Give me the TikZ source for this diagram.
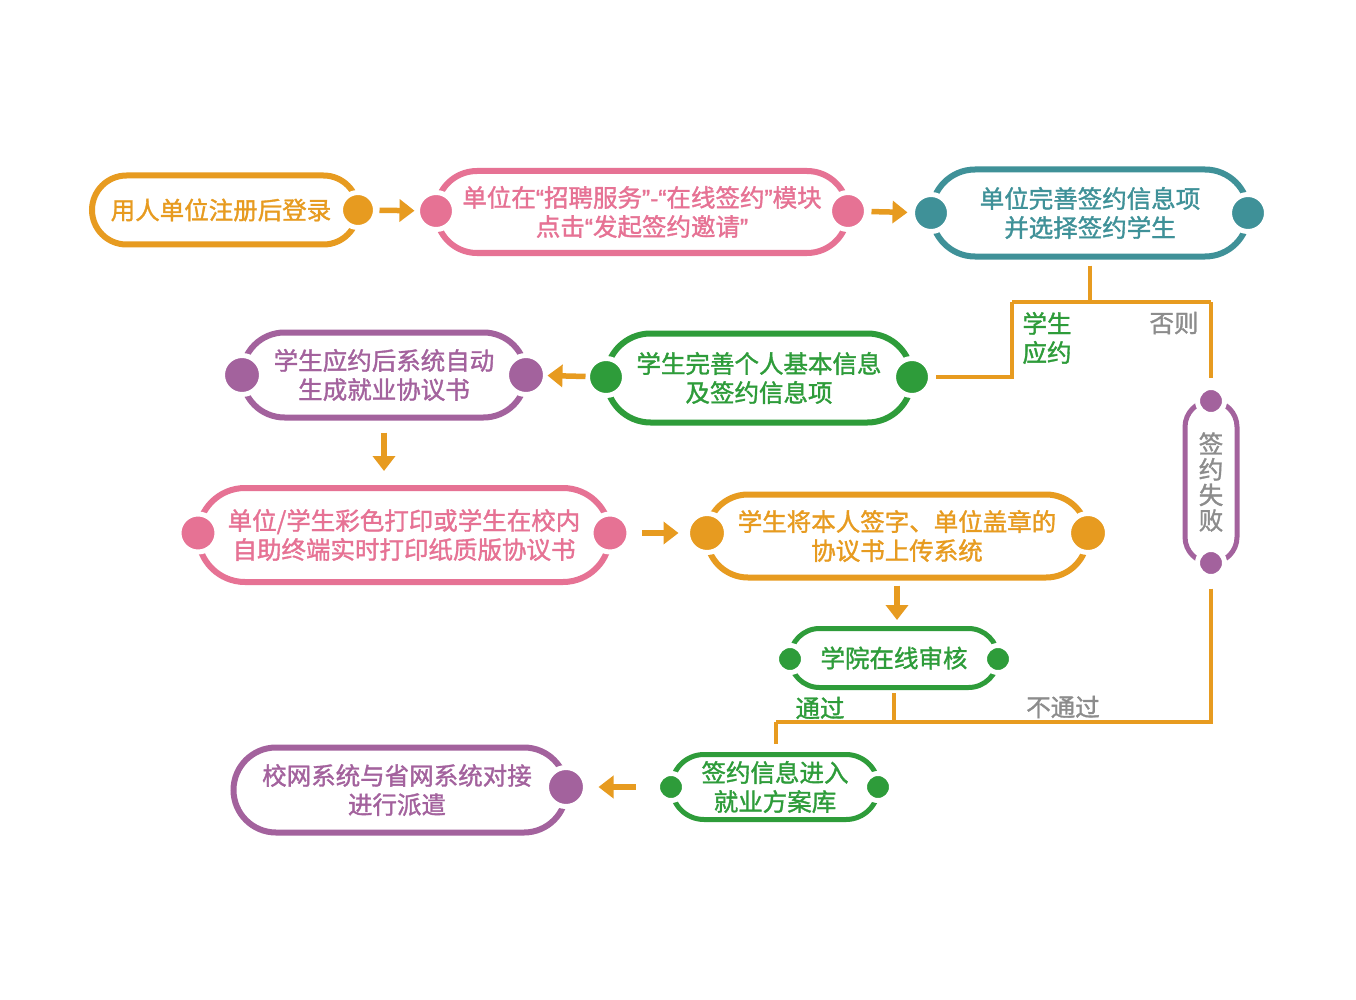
\documentclass[tikz,border=0pt]{standalone}
\usepackage{fontspec}
\setmainfont{Noto Sans CJK SC}[FakeBold=1.4]
\newfontfamily\latin{Liberation Sans}[FakeBold=1.4]
\newcommand\qo{{\latin “}}
\newcommand\qc{{\latin ”}}
\usepackage{xcolor}
\usepackage{tikz}
\usetikzlibrary{arrows.meta,shapes.misc}
\definecolor{amber}{HTML}{E79B20}
\definecolor{rose}{HTML}{E67294}
\definecolor{sea}{HTML}{3F9198}
\definecolor{leaf}{HTML}{2E9C3A}
\definecolor{plum}{HTML}{A3629D}
\definecolor{muted}{HTML}{8C8C8C}
\tikzset{
  pill/.style={rounded rectangle, draw=#1, line width=6pt, fill=white, text=#1,
    align=center, inner sep=0pt, font=\fontsize{24.5}{29}\selectfont},
  knob/.style={circle, fill=#1, draw=white, line width=5pt, inner sep=0pt,
    outer sep=0pt, minimum size=37pt},
  link/.style={draw=amber, line width=4pt},
  go/.style={draw=amber, line width=5.5pt, -{Triangle[length=15pt,width=22pt]}},
  note/.style={text=#1, align=left, inner sep=0pt, font=\fontsize{24.5}{29}\selectfont}
}
\begin{document}
\begin{tikzpicture}[x=1pt,y=-1pt]
  \fill[white] (0,0) rectangle (1356,1000);
  \useasboundingbox (0,0) rectangle (1356,1000);

  % first row
  \node[pill=amber, minimum width=266pt, minimum height=69pt] (n1) at (225,210) {\hspace*{-8pt}用人单位注册后登录};
  \node[knob=amber, minimum size=35pt] (n1r) at (358,210) {};
  \node[pill=rose, minimum width=412pt, minimum height=82pt] (n2) at (642,212) {单位在\qo 招聘服务\qc{\latin -}\qo 在线签约\qc 模块\\点击\qo 发起签约邀请\qc};
  \node[knob=rose] (n2l) at (436,211) {};
  \node[knob=rose] (n2r) at (848,211) {};
  \node[pill=sea, minimum width=317pt, minimum height=87pt] (n3) at (1090,213) {单位完善签约信息项\\并选择签约学生};
  \node[knob=sea] (n3l) at (931,213) {};
  \node[knob=sea] (n3r) at (1248,213) {};

  % second row
  \node[pill=leaf, minimum width=306pt, minimum height=89pt] (n4) at (759,378) {学生完善个人基本信息\\及签约信息项};
  \node[knob=leaf] (n4l) at (606,377) {};
  \node[knob=leaf] (n4r) at (912,377) {};
  \node[pill=plum, minimum width=284pt, minimum height=85pt] (n5) at (384,375) {学生应约后系统自动\\生成就业协议书};
  \node[knob=plum, minimum size=39pt] (n5l) at (242,375) {};
  \node[knob=plum, minimum size=39pt] (n5r) at (526,375) {};

  % third row
  \node[pill=rose, minimum width=412pt, minimum height=94pt] (n6) at (404,535) {单位/学生彩色打印或学生在校内\\自助终端实时打印纸质版协议书};
  \node[knob=rose, minimum size=38pt] (n6l) at (198,533) {};
  \node[knob=rose, minimum size=38pt] (n6r) at (610,533) {};
  \node[pill=amber, minimum width=381pt, minimum height=83pt] (n7) at (897,536) {学生将本人签字、单位盖章的\\协议书上传系统};
  \node[knob=amber, minimum size=39pt] (n7l) at (707,533) {};
  \node[knob=amber, minimum size=39pt] (n7r) at (1088,533) {};

  % check and result
  \node[pill=leaf, line width=5pt, minimum width=208pt, minimum height=59pt] (n8) at (894,658) {学院在线审核};
  \node[knob=leaf, minimum size=27pt] (n8l) at (790,659) {};
  \node[knob=leaf, minimum size=27pt] (n8r) at (998,659) {};
  \node[pill=leaf, line width=5pt, minimum width=207pt, minimum height=65pt] (n9) at (775,787) {签约信息进入\\就业方案库};
  \node[knob=leaf, minimum size=27pt] (n9l) at (671,787) {};
  \node[knob=leaf, minimum size=27pt] (n9r) at (878,787) {};
  \node[pill=plum, minimum width=333pt, minimum height=85pt] (n10) at (400,790) {\hspace*{-6pt}校网系统与省网系统对接\\\hspace*{-6pt}进行派遣};
  \node[knob=plum, minimum size=39pt] (n10r) at (566,787) {};

  % failure
  \node[pill=plum, rectangle, rounded corners=26pt, line width=5pt, minimum width=52pt,
    minimum height=162pt, text=muted, font=\fontsize{24.5}{25.5}\selectfont] (fail) at (1211,482) {签\\约\\失\\败};
  \node[knob=plum, minimum size=27pt] (fT) at (1211,401) {};
  \node[knob=plum, minimum size=27pt] (fB) at (1211,563) {};

  % arrows
  \draw[go, shorten <=4pt, shorten >=3pt] (n1r) -- (n2l);
  \draw[go, shorten <=5pt, shorten >=5pt] (n2r) -- (n3l);
  \draw[go, shorten <=2pt, shorten >=2pt] (n4l) -- (n5r);
  \draw[go, shorten <=12pt, shorten >=14pt] (n5.south) -- (n5.south |- n6.north);
  \draw[go, shorten <=13pt, shorten >=9pt] (n6r) -- (n7l);
  \draw[go, shorten <=5pt, shorten >=6pt] (n7.south) -- (n7.south |- n8.north);
  \draw[go, shorten <=22pt, shorten >=13pt] (n9l) -- (n10r);

  % branches
  \coordinate (sL) at (1012,302);
  \coordinate (sR) at (1211,302);
  \coordinate (pL) at (776,722);
  \draw[link, shorten <=6pt] (n3.south) -- (n3.south |- sL);
  \draw[link] (sL) -- (sR);
  \draw[link, shorten >=5pt] (sL) |- (n4r);
  \draw[link, shorten >=10pt] (sR) -- (fT);
  \draw[link, shorten <=12pt] (fB) |- (pL);
  \draw[link, shorten <=3pt] (n8.south) -- (n8.south |- pL);
  \draw[link, shorten >=8pt] (pL) -- (pL |- n9.north);

  \node[note=leaf] (yes1) at (1047,338) {学生\\应约};
  \node[note=muted] (no1) at (1174,323) {否则};
  \node[note=leaf] (yes2) at (820,708) {通过};
  \node[note=muted] (no2) at (1063,707) {不通过};
\end{tikzpicture}
\end{document}
